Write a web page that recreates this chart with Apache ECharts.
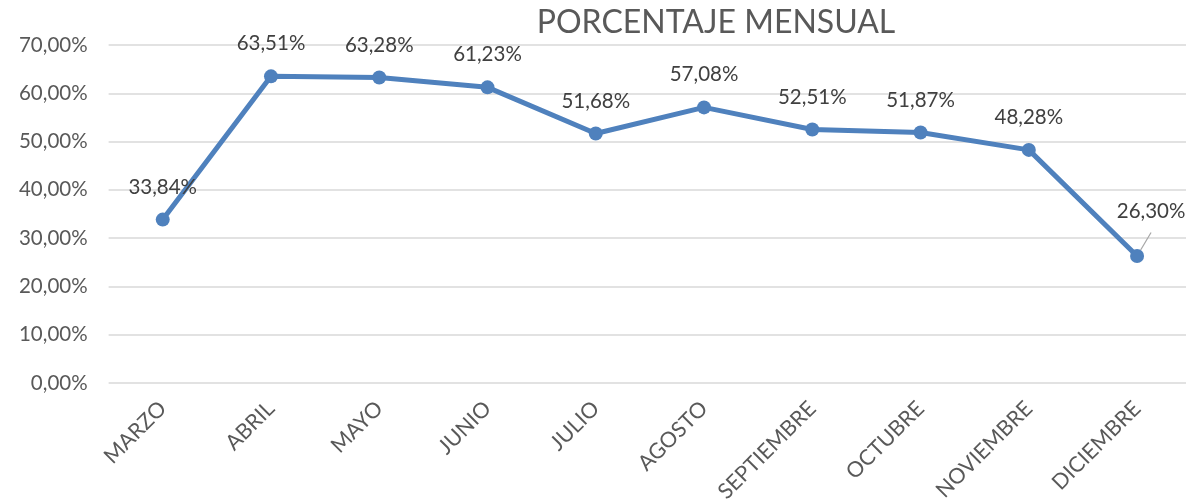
<!DOCTYPE html>
<html><head><meta charset="utf-8">
<script src="https://cdn.jsdelivr.net/npm/echarts@6/dist/echarts.min.js"></script>
<style>html,body{margin:0;padding:0;background:#fff}#c{width:1186px;height:500px}</style>
</head><body><div id="c"></div>
<script>
const titleText = 'PORCENTAJE MENSUAL';
const categories = ['MARZO','ABRIL','MAYO','JUNIO','JULIO','AGOSTO','SEPTIEMBRE','OCTUBRE','NOVIEMBRE','DICIEMBRE'];
const values = [33.84, 63.51, 63.28, 61.23, 51.68, 57.08, 52.51, 51.87, 48.28, 26.30];
const yMin = 0, yMax = 70, yStep = 10;

const fmt = v => v.toFixed(2).replace('.', ',') + '%';
const FONT = 'Lato, "Open Sans", sans-serif';
const data = values.map((v, i) => {
  if (i === values.length - 1) {
    return { value: v, label: { offset: [14, -12] }, labelLine: { show: true } };
  }
  return v;
});

const chart = echarts.init(document.getElementById('c'), null, { renderer: 'canvas' });
chart.setOption({
  animation: false,
  title: { text: titleText, left: 711, top: 2, textAlign: 'center',
    textStyle: { fontFamily: FONT, fontSize: 32, fontWeight: 'normal', color: '#595959' } },
  grid: { left: 108.6, width: 1082.6, top: 45, bottom: 117, outerBoundsMode: 'none', containLabel: false },
  xAxis: { type: 'category', data: categories, boundaryGap: true,
    axisLine: { show: false }, axisTick: { show: false },
    axisLabel: { rotate: 45, margin: 22, fontFamily: FONT, fontSize: 21.5, color: '#595959', interval: 0 } },
  yAxis: { type: 'value', min: yMin, max: yMax, interval: yStep,
    axisLine: { show: false }, axisTick: { show: false },
    splitLine: { lineStyle: { color: '#d9d9d9', width: 1.5 } },
    axisLabel: { formatter: fmt, fontFamily: FONT, fontSize: 20.5, color: '#595959', margin: 21 } },
  series: [{
    type: 'line', data: data,
    lineStyle: { color: '#4f81bd', width: 5 },
    itemStyle: { color: '#4f81bd' },
    symbol: 'circle', symbolSize: 14,
    label: { show: true, position: 'top', distance: 15, formatter: p => fmt(p.value),
      fontFamily: FONT, fontSize: 20.5, color: '#404040' },
    labelLine: { lineStyle: { color: '#a6a6a6', width: 1.2 } }
  }]
});
</script></body></html>
